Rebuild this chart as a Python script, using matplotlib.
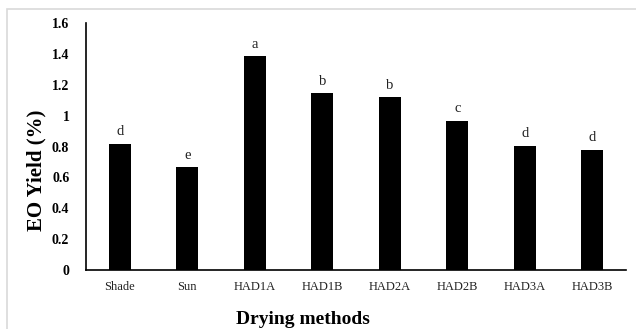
import numpy as np
import matplotlib.pyplot as plt
from matplotlib.patches import Rectangle

# EO yield for each drying method, with significance letters
methods = ['Shade', 'Sun', 'HAD1A', 'HAD1B', 'HAD2A', 'HAD2B', 'HAD3A', 'HAD3B']
yields = [0.816, 0.665, 1.385, 1.144, 1.118, 0.967, 0.803, 0.777]
letters = ['d', 'e', 'a', 'b', 'b', 'c', 'd', 'd']
yticks = [0, 0.2, 0.4, 0.6, 0.8, 1.0, 1.2, 1.4, 1.6]
ytick_labels = ['0', '0.2', '0.4', '0.6', '0.8', '1', '1.2', '1.4', '1.6']

serif = 'Liberation Serif'

fig = plt.figure(figsize=(6.36, 3.29), dpi=100)
fig.patches.append(Rectangle((7/636, -0.1), 1.0, 1 - 9/329 + 0.1, transform=fig.transFigure,
                             fill=False, edgecolor='#d9d9d9', linewidth=1.2))
ax = fig.add_axes([86/636, 59/329, 540/636, 247/329])

x = np.arange(len(methods))
ax.bar(x, yields, width=0.33, color='black')
for xi, v, l in zip(x, yields, letters):
    ax.annotate(l, (xi, v), xytext=(0, 4), textcoords='offset points',
                ha='center', va='bottom', fontsize=10.5, family=serif, color='#222222')

ax.set_xlim(-0.5, 7.5)
ax.set_ylim(0, 1.6)
ax.set_yticks(yticks)
ax.set_yticklabels(ytick_labels, fontsize=10, family=serif, fontweight='bold')
ax.set_xticks(x)
ax.set_xticklabels(methods, fontsize=9, family=serif, color='#222222')
ax.tick_params(axis='both', length=0)
ax.tick_params(axis='y', pad=12)
ax.tick_params(axis='x', pad=8)
for s in ['top', 'right']:
    ax.spines[s].set_visible(False)
ax.spines['left'].set_linewidth(1.2)
ax.spines['bottom'].set_linewidth(1.2)

fig.text(303/636, 1 - 319/329, 'Drying methods', ha='center', va='center',
         fontsize=14, family=serif, fontweight='bold')
fig.text(36/636, 1 - 170/329, 'EO Yield (%)', ha='center', va='center', rotation=90,
         fontsize=15, family=serif, fontweight='bold')

fig.savefig('out.png', dpi=100)
